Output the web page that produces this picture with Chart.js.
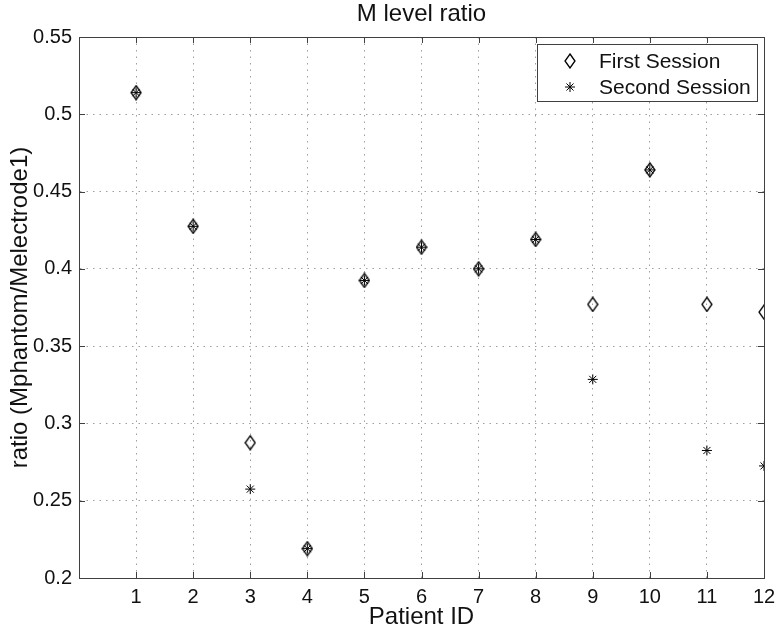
<!DOCTYPE html>
<html lang="en">
<head>
    <meta charset="UTF-8">
    <title>M level ratio</title>
    <script src="https://cdn.jsdelivr.net/npm/chart.js"></script>
    <style>
        html, body { margin: 0; padding: 0; background: #fff; }
        #wrap { width: 777px; height: 630px; }
    </style>
</head>
<body>
    <div id="wrap"><canvas id="chart" width="777" height="630"></canvas></div>
    <script>
        // data
        const patientIds = [1, 2, 3, 4, 5, 6, 7, 8, 9, 10, 11, 12];
        const firstSession = [0.514, 0.4275, 0.2875, 0.219, 0.3925, 0.414, 0.400, 0.419, 0.377, 0.464, 0.377, 0.372];
        const secondSession = [0.514, 0.4275, 0.2575, 0.219, 0.3925, 0.414, 0.400, 0.419, 0.3285, 0.464, 0.2825, 0.2725];
        const yTicks = [0.2, 0.25, 0.3, 0.35, 0.4, 0.45, 0.5, 0.55];
        const xTicks = [1, 2, 3, 4, 5, 6, 7, 8, 9, 10, 11, 12];

        const FONT = "'Liberation Sans', Arial, Helvetica, sans-serif";
        const AXIS = '#404040';
        const GRID = 'rgba(0,0,0,0.38)';

        function toPoints(vals) {
            return patientIds.map((id, i) => ({ x: id, y: vals[i] }));
        }

        // matlab style diamond, a bit taller than wide
        const diamond = document.createElement('canvas');
        diamond.width = 12;
        diamond.height = 16;
        (function () {
            const c = diamond.getContext('2d');
            c.strokeStyle = '#000';
            c.lineWidth = 1.3;
            c.beginPath();
            c.moveTo(6, 1);
            c.lineTo(11, 8);
            c.lineTo(6, 15);
            c.lineTo(1, 8);
            c.closePath();
            c.stroke();
        })();

        // box round the plot, inward tick marks, legend inside the axes
        const matlabBox = {
            id: 'matlabBox',
            afterDatasetsDraw(chart) {
                const { ctx, chartArea: a, scales: { x, y } } = chart;
                ctx.save();
                ctx.strokeStyle = AXIS;
                ctx.lineWidth = 1;
                ctx.strokeRect(Math.round(a.left) + 0.5, Math.round(a.top) + 0.5,
                    Math.round(a.right - a.left), Math.round(a.bottom - a.top));
                ctx.beginPath();
                xTicks.forEach(v => {
                    const px = Math.round(x.getPixelForValue(v)) + 0.5;
                    ctx.moveTo(px, a.bottom); ctx.lineTo(px, a.bottom - 6);
                    ctx.moveTo(px, a.top); ctx.lineTo(px, a.top + 6);
                });
                yTicks.forEach(v => {
                    const py = Math.round(y.getPixelForValue(v)) + 0.5;
                    ctx.moveTo(a.left, py); ctx.lineTo(a.left + 6, py);
                    ctx.moveTo(a.right, py); ctx.lineTo(a.right - 6, py);
                });
                ctx.stroke();

                // legend
                const lx = 537.5, ly = 44.5, lw = 220, lh = 57;
                ctx.fillStyle = '#fff';
                ctx.fillRect(lx, ly, lw, lh);
                ctx.strokeStyle = AXIS;
                ctx.strokeRect(lx, ly, lw, lh);
                ctx.font = '21px ' + FONT;
                ctx.textBaseline = 'middle';
                ctx.textAlign = 'left';
                chart.data.datasets.forEach((ds, i) => {
                    const cy = 61 + i * 26;
                    ctx.strokeStyle = '#000';
                    ctx.fillStyle = 'rgba(0,0,0,0)';
                    ctx.lineWidth = 1;
                    Chart.helpers.drawPoint(ctx, {
                        pointStyle: ds.pointStyle, radius: ds.pointRadius, borderWidth: 1, rotation: 0
                    }, 570, cy);
                    ctx.fillStyle = '#111';
                    ctx.fillText(ds.label, 599, cy + 1);
                });
                ctx.restore();
            }
        };

        new Chart(document.getElementById('chart'), {
            type: 'scatter',
            data: {
                datasets: [
                    {
                        label: 'First Session',
                        data: toPoints(firstSession),
                        pointStyle: diamond,
                        pointRadius: 6,
                        pointBorderWidth: 1,
                        borderColor: '#000',
                        backgroundColor: 'rgba(0,0,0,0)'
                    },
                    {
                        label: 'Second Session',
                        data: toPoints(secondSession),
                        pointStyle: 'star',
                        pointRadius: 5,
                        pointBorderWidth: 1,
                        borderColor: '#000',
                        backgroundColor: 'rgba(0,0,0,0)'
                    }
                ]
            },
            options: {
                responsive: false,
                animation: false,
                events: [],
                layout: { padding: { right: 13, left: 0, bottom: 0, top: 0 } },
                plugins: {
                    legend: { display: false },
                    tooltip: { enabled: false },
                    title: {
                        display: true,
                        fullSize: false,
                        text: 'M level ratio',
                        color: '#111',
                        font: { family: FONT, size: 24, weight: 'normal', lineHeight: 1 },
                        padding: { top: 2, bottom: 11 }
                    }
                },
                scales: {
                    x: {
                        type: 'linear',
                        min: 0,
                        max: 12,
                        afterFit(s) { s.height = 52; s.paddingRight = 0; s.paddingLeft = 0; },
                        afterBuildTicks(s) { s.ticks = xTicks.map(v => ({ value: v })); },
                        grid: {
                            color: GRID,
                            lineWidth: 1,
                            drawTicks: false
                        },
                        border: { display: true, color: AXIS, dash: [1.5, 5] },
                        ticks: {
                            color: '#111',
                            padding: 7,
                            font: { family: FONT, size: 20 }
                        },
                        title: {
                            display: true,
                            text: 'Patient ID',
                            color: '#111',
                            font: { family: FONT, size: 24, lineHeight: 1 },
                            padding: { top: 0, bottom: 1 }
                        }
                    },
                    y: {
                        min: 0.2,
                        max: 0.55,
                        afterFit(s) { s.width = 79; s.paddingTop = 0; s.paddingBottom = 0; },
                        afterBuildTicks(s) { s.ticks = yTicks.map(v => ({ value: v })); },
                        grid: {
                            color: GRID,
                            lineWidth: 1,
                            drawTicks: false
                        },
                        border: { display: true, color: AXIS, dash: [1.5, 5] },
                        ticks: {
                            color: '#111',
                            padding: 7,
                            font: { family: FONT, size: 20 },
                            callback: v => String(Math.round(v * 100) / 100)
                        },
                        title: {
                            display: true,
                            text: 'ratio (Mphantom/Melectrode1)',
                            color: '#111',
                            font: { family: FONT, size: 24, lineHeight: 1 },
                            padding: { top: 8, bottom: 0 }
                        }
                    }
                }
            },
            plugins: [matlabBox]
        });
    </script>
</body>
</html>
